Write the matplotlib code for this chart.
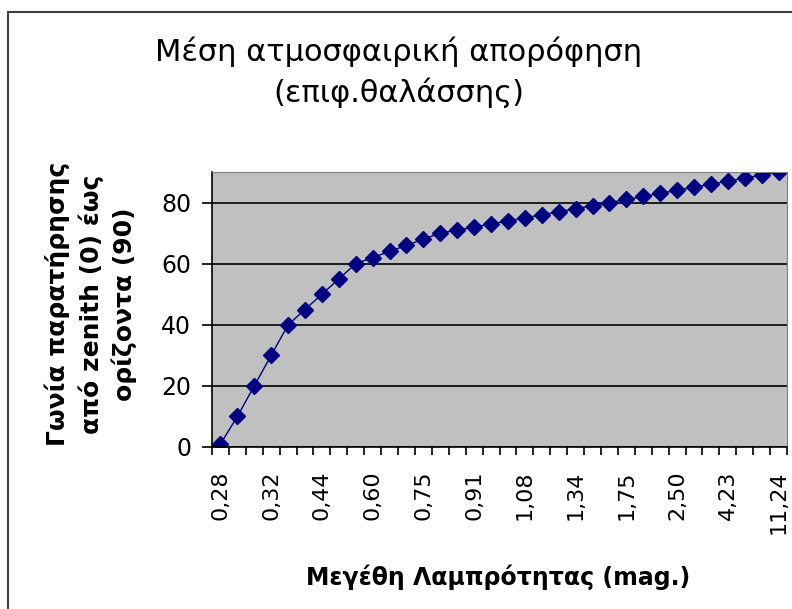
import matplotlib.pyplot as plt
from matplotlib.patches import Rectangle

# μέγεθος απορρόφησης (mag.) ανά κατηγορία
megethi = ['0,28', '0,28', '0,30', '0,32', '0,37', '0,40', '0,44', '0,49', '0,56',
           '0,60', '0,64', '0,69', '0,75', '0,82', '0,86', '0,91', '0,96', '1,02',
           '1,08', '1,16', '1,24', '1,34', '1,46', '1,60', '1,75', '1,97', '2,20',
           '2,50', '2,87', '3,39', '4,23', '5,40', '7,40', '11,24']
# γωνία από zenith
gonies = [1, 10, 20, 30, 40, 45, 50, 55, 60, 62, 64, 66, 68, 70, 71, 72, 73, 74,
          75, 76, 77, 78, 79, 80, 81, 82, 83, 84, 85, 86, 87, 88, 89, 90]
y_ticks = [0, 20, 40, 60, 80]

plt.rcParams['font.family'] = ['DejaVu Sans']

fig = plt.figure(figsize=(7.92, 6.09), dpi=100)
fig.patches.append(Rectangle((8 / 792, -0.1), 1.2, 1 - 12 / 609 + 0.1,
                             transform=fig.transFigure, fill=False,
                             edgecolor='#404040', linewidth=1.5))

ax = fig.add_axes([212 / 792, 1 - 447 / 609, 575 / 792, 275 / 609])
ax.set_facecolor('#C0C0C0')
x = range(len(gonies))
ax.plot(x, gonies, color='#000080', linewidth=1, marker='D', markersize=8,
        markerfacecolor='#000080', markeredgecolor='#000080')

ax.set_xlim(-0.5, len(gonies) - 0.5)
ax.set_ylim(0, 90)
ax.set_yticks(y_ticks)
ax.set_xticks(list(x)[::3])
ax.set_xticklabels(megethi[::3], rotation=90, fontsize=16)
ax.set_xticks([i - 0.5 for i in range(len(gonies) + 1)], minor=True)
ax.tick_params(axis='x', which='major', length=0, pad=17)
ax.tick_params(axis='x', which='minor', length=6, width=1.2, color='black')
ax.tick_params(axis='y', length=7, width=1.2, labelsize=17, pad=8)
ax.yaxis.grid(True, color='black', linewidth=1.2)
ax.set_axisbelow(True)
for s in ['top', 'right']:
    ax.spines[s].set_color('#808080')
for s in ['left', 'bottom']:
    ax.spines[s].set_linewidth(1.2)

ax.set_ylabel('Γωνία παρατήρησης\nαπό zenith (0) έως\nορίζοντα (90)',
              fontsize=18, fontweight='bold', linespacing=1.4, va='center')
ax.yaxis.set_label_coords(91 / 792, 1 - 304 / 609, transform=fig.transFigure)
ax.set_xlabel('Μεγέθη Λαμπρότητας (mag.)', fontsize=17, fontweight='bold',
              va='center')
ax.xaxis.set_label_coords(498 / 792, 1 - 577 / 609, transform=fig.transFigure)

fig.text(0.503, 1 - 52 / 609, 'Μέση ατμοσφαιρική απορόφηση', ha='center',
         va='center', fontsize=22)
fig.text(0.503, 1 - 93 / 609, '(επιφ.θαλάσσης)', ha='center', va='center',
         fontsize=22)

plt.savefig('out.png')
